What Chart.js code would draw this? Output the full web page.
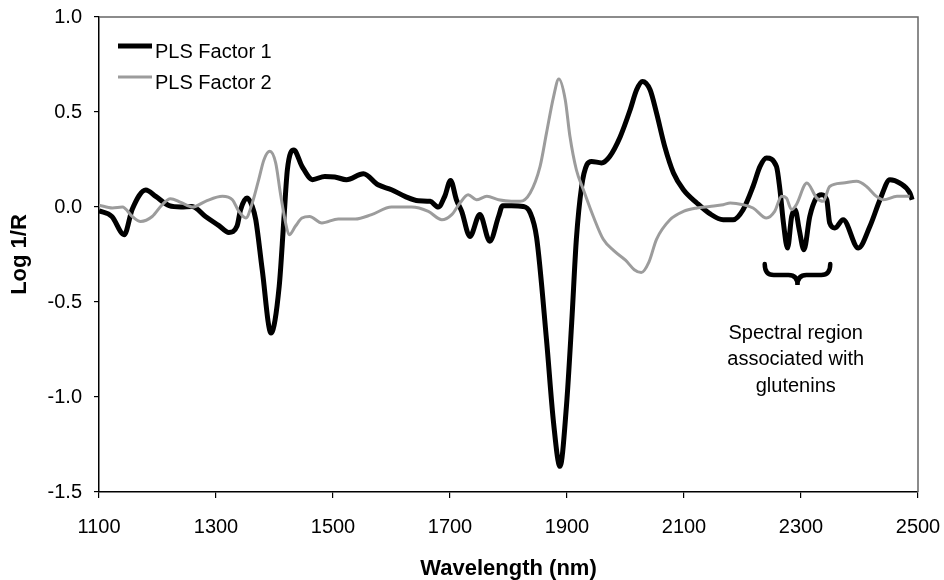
<!DOCTYPE html>
<html>
<head>
<meta charset="utf-8">
<script src="https://cdn.jsdelivr.net/npm/chart.js@4.4.1/dist/chart.umd.min.js"></script>
<style>
  body { margin: 0; background: #fff; }
  #wrap { width: 944px; height: 580px; }
</style>
</head>
<body>
<div id="wrap"><canvas id="myChart" width="944" height="580"></canvas></div>
<script>
// wavelengths (nm) and loadings
const wl1 = [1100,1122,1143,1157,1180,1197,1220,1240,1259,1282,1305,1322,1336,1342,1353,1362,1368,1379,1394,1408,1416,1422,1433,1447,1465,1486,1503,1523,1552,1577,1600,1623,1646,1666,1680,1691,1701,1711,1720,1734,1751,1768,1783,1790,1805,1825,1837,1848,1865,1877,1888,1899,1908,1916,1925,1934,1942,1959,1973,1991,2008,2019,2029,2042,2053,2067,2082,2099,2122,2144,2167,2184,2201,2218,2230,2241,2258,2264,2270,2277,2284,2290,2297,2305,2315,2326,2335,2344,2349,2358,2372,2398,2418,2435,2452,2469,2486,2490]
const factor1 = [-0.02,-0.05,-0.146,-0.01,0.09,0.056,0.007,0.0,0.003,-0.05,-0.098,-0.134,-0.10,-0.014,0.047,0.003,-0.067,-0.33,-0.663,-0.418,-0.067,0.196,0.30,0.214,0.144,0.161,0.158,0.144,0.175,0.117,0.091,0.056,0.033,0.03,0.0,0.056,0.14,0.038,-0.023,-0.155,-0.04,-0.18,-0.05,0.007,0.007,0.003,-0.03,-0.16,-0.70,-1.135,-1.365,-1.05,-0.61,-0.17,0.108,0.223,0.24,0.232,0.266,0.37,0.512,0.617,0.661,0.617,0.495,0.319,0.179,0.091,0.021,-0.035,-0.067,-0.067,-0.014,0.108,0.214,0.258,0.214,0.091,-0.084,-0.216,-0.05,-0.014,-0.12,-0.225,-0.05,0.047,0.065,0.038,-0.084,-0.11,-0.067,-0.216,-0.10,0.038,0.144,0.126,0.074,0.038]

const wl2 = [1100,1123,1140,1157,1171,1191,1208,1222,1240,1260,1282,1311,1328,1339,1351,1362,1373,1382,1392,1402,1410,1419,1425,1436,1447,1460,1481,1509,1538,1566,1600,1634,1663,1686,1703,1717,1731,1745,1763,1783,1805,1820,1837,1854,1865,1877,1886,1897,1905,1916,1928,1945,1962,1980,2000,2015,2027,2040,2053,2076,2099,2122,2144,2167,2179,2201,2218,2241,2255,2267,2275,2284,2292,2310,2327,2338,2349,2372,2395,2412,2429,2441,2464,2486]
const factor2 = [0.01,-0.005,0.0,-0.05,-0.076,-0.05,0.012,0.044,0.024,0.0,0.03,0.056,0.038,-0.023,-0.058,0.021,0.144,0.249,0.293,0.232,0.074,-0.084,-0.146,-0.10,-0.058,-0.05,-0.084,-0.063,-0.063,-0.04,0.0,0.0,-0.023,-0.067,-0.04,0.021,0.065,0.038,0.056,0.038,0.03,0.03,0.074,0.214,0.39,0.58,0.674,0.565,0.372,0.196,0.091,-0.05,-0.17,-0.23,-0.28,-0.33,-0.345,-0.29,-0.17,-0.067,-0.023,-0.005,0.003,0.012,0.021,0.012,-0.005,-0.058,-0.023,0.056,0.047,-0.014,0.012,0.126,0.047,0.03,0.108,0.126,0.135,0.108,0.056,0.038,0.056,0.056]

const seriesNames = ['PLS Factor 1', 'PLS Factor 2']
const xTicks = [1100,1300,1500,1700,1900,2100,2300,2500]
const yTicks = [-1.5,-1.0,-0.5,0.0,0.5,1.0]
const bracketRange = [2238, 2350]
const noteLines = ['Spectral region', 'associated with', 'glutenins']

const FONT = "'Liberation Sans', Arial, sans-serif"

const toPoints = (xs, ys) => xs.map((x, i) => ({x: x, y: ys[i]}))

// frame, legend, bracket and note drawn on top
const extras = {
  id: 'extras',
  afterDraw(chart){
    const ctx = chart.ctx
    const a = chart.chartArea
    const xs = chart.scales.x
    const ys = chart.scales.y
    ctx.save()
    // top + right frame
    ctx.strokeStyle = '#666'
    ctx.lineWidth = 1.5
    ctx.beginPath()
    ctx.moveTo(a.left, a.top)
    ctx.lineTo(a.right, a.top)
    ctx.lineTo(a.right, a.bottom)
    ctx.stroke()

    // legend
    const ds = chart.data.datasets
    const rows = [46, 77]
    ds.forEach((d, i) => {
      ctx.strokeStyle = d.borderColor
      ctx.lineWidth = d.borderWidth
      ctx.beginPath()
      ctx.moveTo(118, rows[i])
      ctx.lineTo(152, rows[i])
      ctx.stroke()
      ctx.fillStyle = '#000'
      ctx.font = '20px ' + FONT
      ctx.textBaseline = 'alphabetic'
      ctx.textAlign = 'left'
      ctx.fillText(d.label, 155, rows[i] + 12)
    })

    // curly bracket
    const x0 = xs.getPixelForValue(bracketRange[0])
    const x1 = xs.getPixelForValue(bracketRange[1])
    const xm = (x0 + x1) / 2
    const yt = ys.getPixelForValue(-0.30)
    const yc = yt + 11
    const yb = yt + 21
    const r = 9
    ctx.strokeStyle = '#000'
    ctx.lineWidth = 4.5
    ctx.lineCap = 'round'
    ctx.beginPath()
    ctx.moveTo(x0, yt)
    ctx.quadraticCurveTo(x0, yc, x0 + r, yc)
    ctx.lineTo(xm - r, yc)
    ctx.quadraticCurveTo(xm, yc, xm, yb)
    ctx.quadraticCurveTo(xm, yc, xm + r, yc)
    ctx.lineTo(x1 - r, yc)
    ctx.quadraticCurveTo(x1, yc, x1, yt)
    ctx.stroke()

    // note text
    ctx.fillStyle = '#000'
    ctx.font = '20px ' + FONT
    ctx.textAlign = 'center'
    ctx.textBaseline = 'alphabetic'
    const nx = xs.getPixelForValue(2291)
    const ny = ys.getPixelForValue(-0.693)
    noteLines.forEach((t, i) => ctx.fillText(t, nx, ny + i * 26.5))
    ctx.restore()
  }
}

const ctx = document.getElementById('myChart').getContext('2d')
const myChart = new Chart(ctx, {
  type: 'line',
  data: {
    datasets: [
      {
        label: seriesNames[0],
        data: toPoints(wl1, factor1),
        borderColor: '#000',
        borderWidth: 5,
        pointRadius: 0,
        cubicInterpolationMode: 'monotone',
        order: 1
      },
      {
        label: seriesNames[1],
        data: toPoints(wl2, factor2),
        borderColor: '#9c9c9c',
        borderWidth: 3,
        pointRadius: 0,
        cubicInterpolationMode: 'monotone',
        order: 0
      }
    ]
  },
  options: {
    responsive: false,
    animation: false,
    layout: { padding: { top: 17, right: 26, left: 0, bottom: 0 } },
    plugins: {
      legend: { display: false },
      tooltip: { enabled: false }
    },
    scales: {
      x: {
        type: 'linear',
        min: 1100,
        max: 2500,
        afterBuildTicks: scale => { scale.ticks = xTicks.map(v => ({value: v})) },
        afterFit: scale => {
          scale.height = 88
          scale.paddingLeft = 0
          scale.paddingRight = 0
        },
        border: { color: '#000', width: 1.5 },
        grid: { drawOnChartArea: false, tickLength: 6, color: '#000', lineWidth: 1.2 },
        ticks: { color: '#000', padding: 17, maxRotation: 0, font: { family: FONT, size: 20 }, callback: v => String(v) },
        title: {
          display: true,
          text: 'Wavelength (nm)',
          color: '#000',
          padding: { top: 0, bottom: 0 },
          font: { family: FONT, size: 22, weight: 'bold', lineHeight: 1 }
        }
      },
      y: {
        min: -1.5,
        max: 1.0,
        afterBuildTicks: scale => { scale.ticks = yTicks.map(v => ({value: v})) },
        afterFit: scale => {
          scale.width = 99
          scale.paddingTop = 0
          scale.paddingBottom = 0
        },
        border: { color: '#000', width: 1.5 },
        grid: { drawOnChartArea: false, tickLength: 5, color: '#000', lineWidth: 1.2 },
        ticks: {
          color: '#000',
          padding: 12,
          font: { family: FONT, size: 20 },
          callback: v => v.toFixed(1)
        },
        title: {
          display: true,
          text: 'Log 1/R',
          color: '#000',
          padding: { top: 9, bottom: 0 },
          font: { family: FONT, size: 22, weight: 'bold', lineHeight: 1 }
        }
      }
    }
  },
  plugins: [extras]
})
</script>
</body>
</html>
